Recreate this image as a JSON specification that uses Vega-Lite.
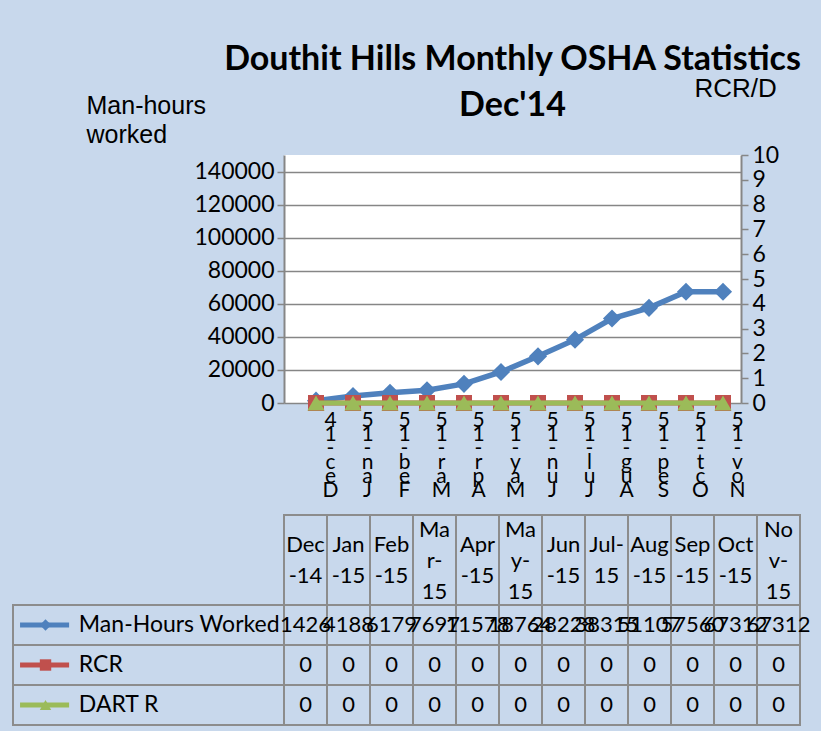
{
  "$schema": "https://vega.github.io/schema/vega-lite/v6.json",
  "background": "#c8d8ec",
  "padding": {"left": 12, "top": 43, "right": 10, "bottom": 5},
  "autosize": {"type": "pad"},
  "datasets": {
    "osha": [
      {"month": "Dec-14", "series": "Man-Hours Worked", "value": 1426},
      {"month": "Dec-14", "series": "RCR", "value": 0},
      {"month": "Dec-14", "series": "DART R", "value": 0},
      {"month": "Jan-15", "series": "Man-Hours Worked", "value": 4188},
      {"month": "Jan-15", "series": "RCR", "value": 0},
      {"month": "Jan-15", "series": "DART R", "value": 0},
      {"month": "Feb-15", "series": "Man-Hours Worked", "value": 6179},
      {"month": "Feb-15", "series": "RCR", "value": 0},
      {"month": "Feb-15", "series": "DART R", "value": 0},
      {"month": "Mar-15", "series": "Man-Hours Worked", "value": 7697},
      {"month": "Mar-15", "series": "RCR", "value": 0},
      {"month": "Mar-15", "series": "DART R", "value": 0},
      {"month": "Apr-15", "series": "Man-Hours Worked", "value": 11578},
      {"month": "Apr-15", "series": "RCR", "value": 0},
      {"month": "Apr-15", "series": "DART R", "value": 0},
      {"month": "May-15", "series": "Man-Hours Worked", "value": 18764},
      {"month": "May-15", "series": "RCR", "value": 0},
      {"month": "May-15", "series": "DART R", "value": 0},
      {"month": "Jun-15", "series": "Man-Hours Worked", "value": 28228},
      {"month": "Jun-15", "series": "RCR", "value": 0},
      {"month": "Jun-15", "series": "DART R", "value": 0},
      {"month": "Jul-15", "series": "Man-Hours Worked", "value": 38315},
      {"month": "Jul-15", "series": "RCR", "value": 0},
      {"month": "Jul-15", "series": "DART R", "value": 0},
      {"month": "Aug-15", "series": "Man-Hours Worked", "value": 51107},
      {"month": "Aug-15", "series": "RCR", "value": 0},
      {"month": "Aug-15", "series": "DART R", "value": 0},
      {"month": "Sep-15", "series": "Man-Hours Worked", "value": 57560},
      {"month": "Sep-15", "series": "RCR", "value": 0},
      {"month": "Sep-15", "series": "DART R", "value": 0},
      {"month": "Oct-15", "series": "Man-Hours Worked", "value": 67312},
      {"month": "Oct-15", "series": "RCR", "value": 0},
      {"month": "Oct-15", "series": "DART R", "value": 0},
      {"month": "Nov-15", "series": "Man-Hours Worked", "value": 67312},
      {"month": "Nov-15", "series": "RCR", "value": 0},
      {"month": "Nov-15", "series": "DART R", "value": 0}
    ]
  },
  "data": {"name": "osha"},
  "columns": 2,
  "spacing": 0,
  "bounds": "flush",
  "concat": [
    {
      "width": 271, "height": 360,
      "mark": {"type": "rect", "opacity": 0},
      "encoding": {}
    },
    {
      "width": 457, "height": 248,
      "view": {"fill": "white", "stroke": null},
      "title": {
        "text": ["Douthit Hills Monthly OSHA Statistics", "Dec'14"],
        "font": "Lato", "fontSize": 34, "fontWeight": "bold", "color": "black",
        "lineHeight": 46, "anchor": "middle", "frame": "group", "offset": -82, "baseline": "bottom"
      },
      "encoding": {
        "x": {
          "field": "month", "type": "ordinal",
          "scale": {"type": "point", "domain": ["Dec-14","Jan-15","Feb-15","Mar-15","Apr-15","May-15","Jun-15","Jul-15","Aug-15","Sep-15","Oct-15","Nov-15"], "padding": 0.676, "align": 0.64},
          "axis": {
            "orient": "bottom", "domain": false, "ticks": false, "grid": false, "title": null,
            "labelAngle": 0, "labelExpr": "reverse(split(datum.label, ''))",
            "labelFont": "Lato", "labelFontSize": 21, "labelLineHeight": 14,
            "labelBaseline": "top", "labelPadding": 6, "labelOffset": 14,
            "labelColor": "black", "labelOverlap": false
          }
        },
        "color": {
          "field": "series", "type": "nominal",
          "scale": {"domain": ["Man-Hours Worked", "RCR", "DART R"], "range": ["#4f81bd", "#c0504d", "#9bbb59"]},
          "legend": null
        }
      },
      "layer": [
        {
          "transform": [{"filter": "datum.series === 'Man-Hours Worked'"}],
          "encoding": {
            "y": {
              "field": "value", "type": "quantitative",
              "scale": {"domain": [0, 150000], "nice": false},
              "axis": {
                "orient": "left", "values": [0, 20000, 40000, 60000, 80000, 100000, 120000, 140000],
                "format": "d", "grid": true, "gridColor": "#868686", "gridWidth": 1.5,
                "domain": true, "domainColor": "#868686", "domainWidth": 2,
                "ticks": true, "tickSize": 7, "tickColor": "#868686", "tickWidth": 1.5,
                "labelFont": "Lato", "labelFontSize": 23, "labelColor": "black", "labelPadding": 3,
                "title": ["Man-hours", "worked"], "titleFont": "Liberation Sans", "titleFontSize": 25,
                "titleFontWeight": "normal", "titleColor": "black", "titleAngle": 0,
                "titleAlign": "left", "titleBaseline": "top", "titleX": -198, "titleY": -62,
                "titleLineHeight": 29
              }
            }
          },
          "layer": [
            {"mark": {"type": "line", "strokeWidth": 5.5}},
            {"mark": {"type": "point", "shape": "diamond", "filled": true, "opacity": 1, "size": 330}}
          ]
        },
        {
          "transform": [{"filter": "datum.series !== 'Man-Hours Worked'"}],
          "encoding": {
            "y": {
              "field": "value", "type": "quantitative",
              "scale": {"domain": [0, 10], "nice": false},
              "axis": {
                "orient": "right", "values": [0,1,2,3,4,5,6,7,8,9,10], "grid": false,
                "domain": true, "domainColor": "#868686", "domainWidth": 2,
                "ticks": true, "tickSize": 7, "tickColor": "#868686", "tickWidth": 1.5,
                "labelFont": "Lato", "labelFontSize": 23, "labelColor": "black", "labelPadding": 4,
                "title": "RCR/D", "titleFont": "Liberation Sans", "titleFontSize": 26,
                "titleFontWeight": "normal", "titleColor": "black", "titleAngle": 0,
                "titleAlign": "left", "titleBaseline": "middle", "titleX": -47, "titleY": -67
              }
            }
          },
          "layer": [
            {"transform": [{"filter": "datum.series === 'RCR'"}], "mark": {"type": "line", "strokeWidth": 5}},
            {"transform": [{"filter": "datum.series === 'RCR'"}], "mark": {"type": "point", "shape": "square", "filled": true, "opacity": 1, "size": 256}},
            {"transform": [{"filter": "datum.series === 'DART R'"}], "mark": {"type": "line", "strokeWidth": 5}},
            {"transform": [{"filter": "datum.series === 'DART R'"}], "mark": {"type": "point", "shape": "triangle-up", "filled": true, "opacity": 1, "size": 300}}
          ]
        }
      ],
      "resolve": {"scale": {"y": "independent"}}
    },
    {
      "width": 271, "height": 90,
      "mark": {"type": "rect", "opacity": 0},
      "encoding": {}
    },
    {
      "width": 516, "height": 90,
      "transform": [{"filter": "datum.series === 'RCR'"}],
      "mark": {"type": "rect", "fill": "transparent", "stroke": "#8c8c8c", "strokeWidth": 2},
      "encoding": {
        "x": {
          "field": "month", "type": "nominal",
          "scale": {"domain": ["Dec-14","Jan-15","Feb-15","Mar-15","Apr-15","May-15","Jun-15","Jul-15","Aug-15","Sep-15","Oct-15","Nov-15"], "paddingInner": 0, "paddingOuter": 0},
          "axis": {
            "orient": "bottom", "domain": false, "ticks": false, "tickSize": 0, "grid": false, "title": null,
            "labelAngle": 0, "labelBaseline": "middle", "labelAlign": "center",
            "labelPadding": {"condition": {"test": "indexof(['Mar-15','May-15','Nov-15'], datum.label) >= 0", "value": -76}, "value": -61},
            "labelExpr": "indexof(['Mar-15','May-15','Nov-15'], datum.label) >= 0 ? [slice(datum.label,0,2), slice(datum.label,2,4), slice(datum.label,4)] : (datum.label === 'Jul-15' ? ['Jul-', '15'] : [slice(datum.label,0,3), slice(datum.label,3)])",
            "labelFont": "Lato", "labelFontSize": 22, "labelLineHeight": 31, "labelColor": "black", "labelOverlap": false
          }
        },
        "y": {"datum": 0, "type": "quantitative", "scale": {"domain": [0, 1]}, "axis": null},
        "y2": {"datum": 1}
      }
    },
    {
      "width": 271, "height": 120,
      "transform": [{"filter": "datum.month === 'Dec-14'"}],
      "encoding": {
        "y": {"field": "series", "type": "nominal", "scale": {"domain": ["Man-Hours Worked", "RCR", "DART R"], "paddingInner": 0, "paddingOuter": 0}, "axis": null}
      },
      "layer": [
        {
          "mark": {"type": "rect", "fill": "transparent", "stroke": "#8c8c8c", "strokeWidth": 2},
          "encoding": {
            "x": {"datum": 0, "type": "quantitative", "scale": {"domain": [0, 1]}, "axis": null},
            "x2": {"datum": 1}
          }
        },
        {
          "mark": {"type": "rule", "strokeWidth": 5},
          "encoding": {
            "x": {"datum": 0.026, "type": "quantitative"},
            "x2": {"datum": 0.207},
            "color": {"field": "series", "type": "nominal", "scale": {"domain": ["Man-Hours Worked", "RCR", "DART R"], "range": ["#4f81bd", "#c0504d", "#9bbb59"]}, "legend": null}
          }
        },
        {
          "mark": {"type": "point", "filled": true, "opacity": 1, "size": 130},
          "encoding": {
            "x": {"datum": 0.12, "type": "quantitative"},
            "shape": {"field": "series", "type": "nominal", "scale": {"domain": ["Man-Hours Worked", "RCR", "DART R"], "range": ["diamond", "square", "triangle-up"]}, "legend": null},
            "color": {"field": "series", "type": "nominal", "scale": {"domain": ["Man-Hours Worked", "RCR", "DART R"], "range": ["#4f81bd", "#c0504d", "#9bbb59"]}, "legend": null}
          }
        },
        {
          "mark": {"type": "text", "align": "left", "baseline": "middle", "font": "Lato", "fontSize": 23, "color": "black"},
          "encoding": {
            "x": {"datum": 0.243, "type": "quantitative"},
            "text": {"field": "series", "type": "nominal"}
          }
        }
      ]
    },
    {
      "width": 516, "height": 120,
      "encoding": {
        "x": {"field": "month", "type": "nominal", "scale": {"domain": ["Dec-14","Jan-15","Feb-15","Mar-15","Apr-15","May-15","Jun-15","Jul-15","Aug-15","Sep-15","Oct-15","Nov-15"], "paddingInner": 0, "paddingOuter": 0}, "axis": null},
        "y": {"field": "series", "type": "nominal", "scale": {"domain": ["Man-Hours Worked", "RCR", "DART R"], "paddingInner": 0, "paddingOuter": 0}, "axis": null}
      },
      "layer": [
        {"mark": {"type": "rect", "fill": "transparent", "stroke": "#8c8c8c", "strokeWidth": 2}},
        {
          "mark": {"type": "text", "font": "Lato", "fontSize": 22, "color": "black", "baseline": "middle"},
          "encoding": {"text": {"field": "value", "type": "quantitative", "format": "d"}}
        }
      ]
    }
  ],
  "config": {
    "view": {"stroke": null},
    "font": "Lato"
  }
}
